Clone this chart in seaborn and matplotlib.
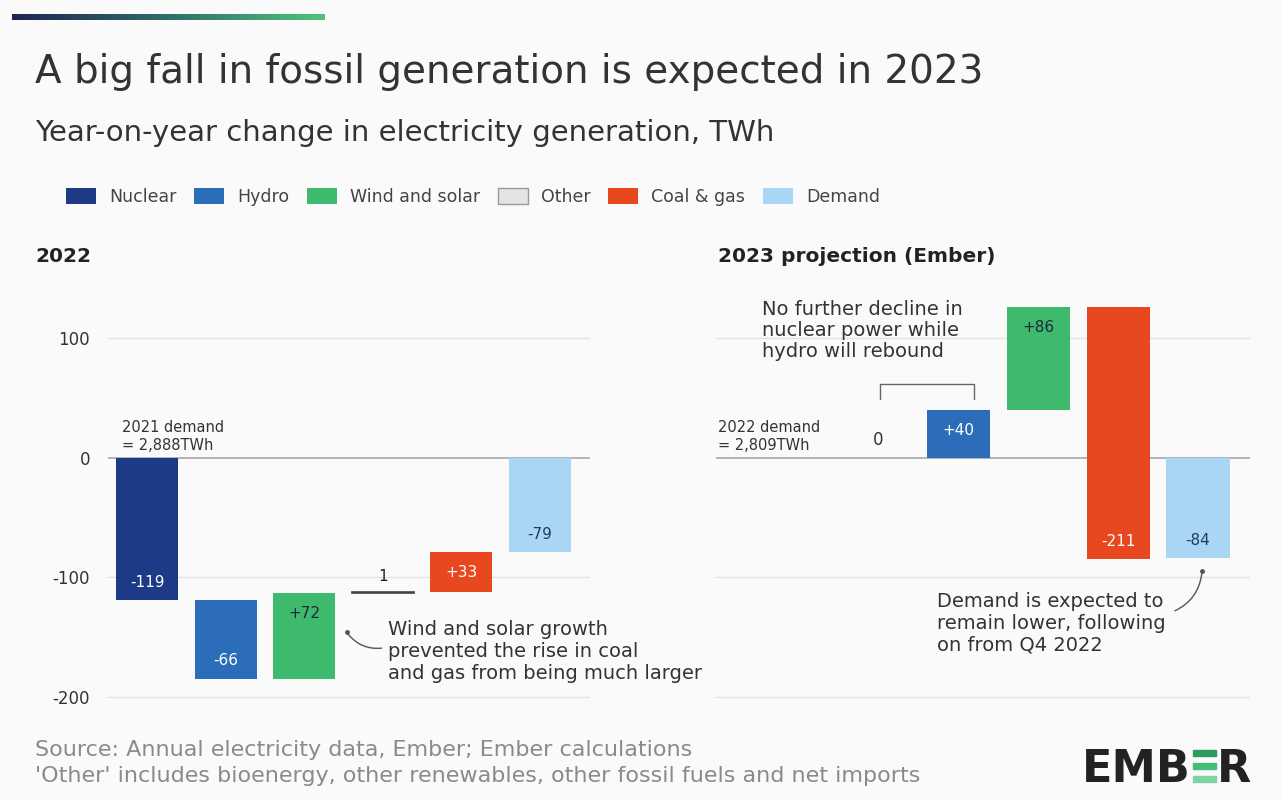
import numpy as np
import matplotlib
matplotlib.use("Agg")
import matplotlib.pyplot as plt
from matplotlib.patches import Patch, Rectangle
from matplotlib.colors import LinearSegmentedColormap
import seaborn as sns

# data (TWh, year-on-year change)
cats_2022 = ["Nuclear", "Hydro", "Wind and solar", "Other", "Coal & gas", "Demand"]
chg_2022 = [-119, -66, 72, 1, 33, -79]
cats_2023 = ["Nuclear", "Hydro", "Wind and solar", "Coal & gas", "Demand"]
chg_2023 = [0, 40, 86, -211, -84]

legend_cats = ["Nuclear", "Hydro", "Wind and solar", "Other", "Coal & gas", "Demand"]
colors = {
    "Nuclear": "#1d3a86",
    "Hydro": "#2b6db8",
    "Wind and solar": "#3dba6b",
    "Other": "#e4e4e4",
    "Coal & gas": "#e8481f",
    "Demand": "#a8d6f4",
}
label_colors = {
    "Nuclear": "white",
    "Hydro": "white",
    "Wind and solar": "#1c2b3a",
    "Other": "#222222",
    "Coal & gas": "white",
    "Demand": "#1d3a6e",
}

W, H = 1282, 800
BG = "#fafafa"
TXT = "#333333"

sns.set_theme(style="white")
plt.rcParams["font.family"] = ["DejaVu Sans"]

fig = plt.figure(figsize=(W / 100, H / 100), dpi=100, facecolor=BG)


def fx(px):
    return px / W


def fy(py):
    return 1 - py / H


def waterfall(ax, cats, changes):
    # running total for the supply bars, demand bar starts from zero
    starts, ends = [], []
    total = 0
    for c, v in zip(cats, changes):
        if c == "Demand":
            starts.append(0)
            ends.append(v)
        else:
            starts.append(total)
            total += v
            ends.append(total)
    sns.barplot(x=cats, y=changes, hue=cats, palette=colors, order=cats,
                hue_order=cats, width=0.79, legend=False, ax=ax,
                saturation=1, linewidth=0)
    for p, s, v, c in zip(ax.patches, starts, changes, cats):
        p.set_y(s)
        p.set_height(v)
        if c == "Other":
            p.set_edgecolor("#444444")
            p.set_linewidth(1.2)
    return starts, ends


def style_axis(ax):
    ax.set_facecolor(BG)
    ax.set_ylim(-211, 136)
    for yv in [-200, -100, 100]:
        ax.axhline(yv, color="#e2e2e2", lw=1, zorder=0)
    ax.axhline(0, color="#a8a8a8", lw=1.2, zorder=0)
    ax.set_xlabel("")
    ax.set_ylabel("")
    ax.set_xticks([])
    sns.despine(ax=ax, left=True, bottom=True)


def bar_labels(ax, cats, changes, starts, ends):
    for i, (c, v, s, e) in enumerate(zip(cats, changes, starts, ends)):
        if c == "Other":
            ax.text(i, e + 6, f"{v}", ha="center", va="bottom", fontsize=11,
                    color=label_colors[c])
            continue
        if v == 0:
            ax.text(i, 15, "0", ha="center", va="center", fontsize=12, color=TXT)
            continue
        txt = f"+{v}" if v > 0 else f"-{abs(v)}"
        yv = e - 17 if v > 0 else e + 15
        ax.text(i, yv, txt, ha="center", va="center", fontsize=11,
                color=label_colors[c])


# left panel: 2022
ax1 = fig.add_axes([fx(108), fy(710), fx(590) - fx(108), fy(295) - fy(710)])
s1, e1 = waterfall(ax1, cats_2022, chg_2022)
style_axis(ax1)
ax1.set_xlim(-0.5, 5.64)
ax1.set_yticks([-200, -100, 0, 100])
ax1.set_yticklabels(["-200", "-100", "0", "100"], fontsize=12, color=TXT)
ax1.tick_params(axis="y", length=0, pad=13)
bar_labels(ax1, cats_2022, chg_2022, s1, e1)
ax1.text(-0.32, 4, "2021 demand\n= 2,888TWh", ha="left", va="bottom",
         fontsize=10.5, color=TXT, linespacing=1.2)
ax1.text(3.07, -136, "Wind and solar growth\nprevented the rise in coal\nand gas from being much larger",
         ha="left", va="top", fontsize=14, color=TXT, linespacing=1.2)
ax1.annotate("", xy=(2.54, -146), xytext=(3.02, -159),
             arrowprops=dict(arrowstyle="-", color="#555555", lw=1,
                             connectionstyle="arc3,rad=-0.3"))
ax1.plot([2.54], [-146], marker="o", ms=2.5, color="#555555")

# right panel: 2023 projection
ax2 = fig.add_axes([fx(716), fy(710), fx(1250) - fx(716), fy(295) - fy(710)])
s2, e2 = waterfall(ax2, cats_2023, chg_2023)
style_axis(ax2)
ax2.set_xlim(-2.03, 4.65)
ax2.set_yticks([])
bar_labels(ax2, cats_2023, chg_2023, s2, e2)
ax2.text(-2.0, 4, "2022 demand\n= 2,809TWh", ha="left", va="bottom",
         fontsize=10.5, color=TXT, linespacing=1.2)
ax2.text(-1.45, 132, "No further decline in\nnuclear power while\nhydro will rebound",
         ha="left", va="top", fontsize=14, color=TXT, linespacing=1.15)
ax2.plot([0.02, 0.02, 1.2, 1.2], [49, 62, 62, 49], color="#666666", lw=1)
ax2.text(0.74, -112, "Demand is expected to\nremain lower, following\non from Q4 2022",
         ha="left", va="top", fontsize=14, color=TXT, linespacing=1.2)
ax2.annotate("", xy=(4.05, -95), xytext=(3.68, -129),
             arrowprops=dict(arrowstyle="-", color="#555555", lw=1,
                             connectionstyle="arc3,rad=0.3"))
ax2.plot([4.05], [-95], marker="o", ms=2.5, color="#555555")

# headings
fig.text(fx(35), fy(72), "A big fall in fossil generation is expected in 2023",
         fontsize=28, color=TXT, va="center", ha="left")
fig.text(fx(35), fy(133), "Year-on-year change in electricity generation, TWh",
         fontsize=21, color=TXT, va="center", ha="left")
fig.text(fx(35), fy(256), "2022", fontsize=14.5, fontweight="bold", color="#222222",
         va="center")
fig.text(fx(718), fy(256), "2023 projection (Ember)", fontsize=14.5,
         fontweight="bold", color="#222222", va="center")

# legend
handles = [Patch(facecolor=colors[c],
                 edgecolor="#999999" if c == "Other" else colors[c],
                 lw=1 if c == "Other" else 0, label=c) for c in legend_cats]
fig.legend(handles=handles, loc="center left", bbox_to_anchor=(fx(50), fy(197)),
           ncol=6, frameon=False, fontsize=12.5, handlelength=1.75,
           handleheight=1.0, handletextpad=0.75, columnspacing=1.0,
           labelcolor="#444444")

# footer
fig.text(fx(35), fy(750), "Source: Annual electricity data, Ember; Ember calculations",
         fontsize=16, color="#8a8a8a", va="center")
fig.text(fx(35), fy(776),
         "'Other' includes bioenergy, other renewables, other fossil fuels and net imports",
         fontsize=16, color="#8a8a8a", va="center")

# logo
fig.text(fx(1082), fy(782), "EMB", fontsize=32, fontweight="bold", color="#222222",
         va="baseline", ha="left")
fig.text(fx(1251), fy(782), "R", fontsize=32, fontweight="bold", color="#222222",
         va="baseline", ha="right")
for py, col in zip([750, 763, 776], ["#2f9a60", "#45bd78", "#7cd5a0"]):
    fig.patches.append(Rectangle((fx(1193), fy(py + 6)), fx(23), 6 / H,
                                 transform=fig.transFigure, color=col))

# gradient strip at the top
gax = fig.add_axes([fx(12), fy(20), fx(313), 6 / H])
grad = LinearSegmentedColormap.from_list("g", ["#1f2455", "#2e6f6a", "#4fc47c"])
gax.imshow(np.linspace(0, 1, 256)[None, :], aspect="auto", cmap=grad)
gax.set_axis_off()

fig.savefig("out.png", dpi=100, facecolor=BG)
